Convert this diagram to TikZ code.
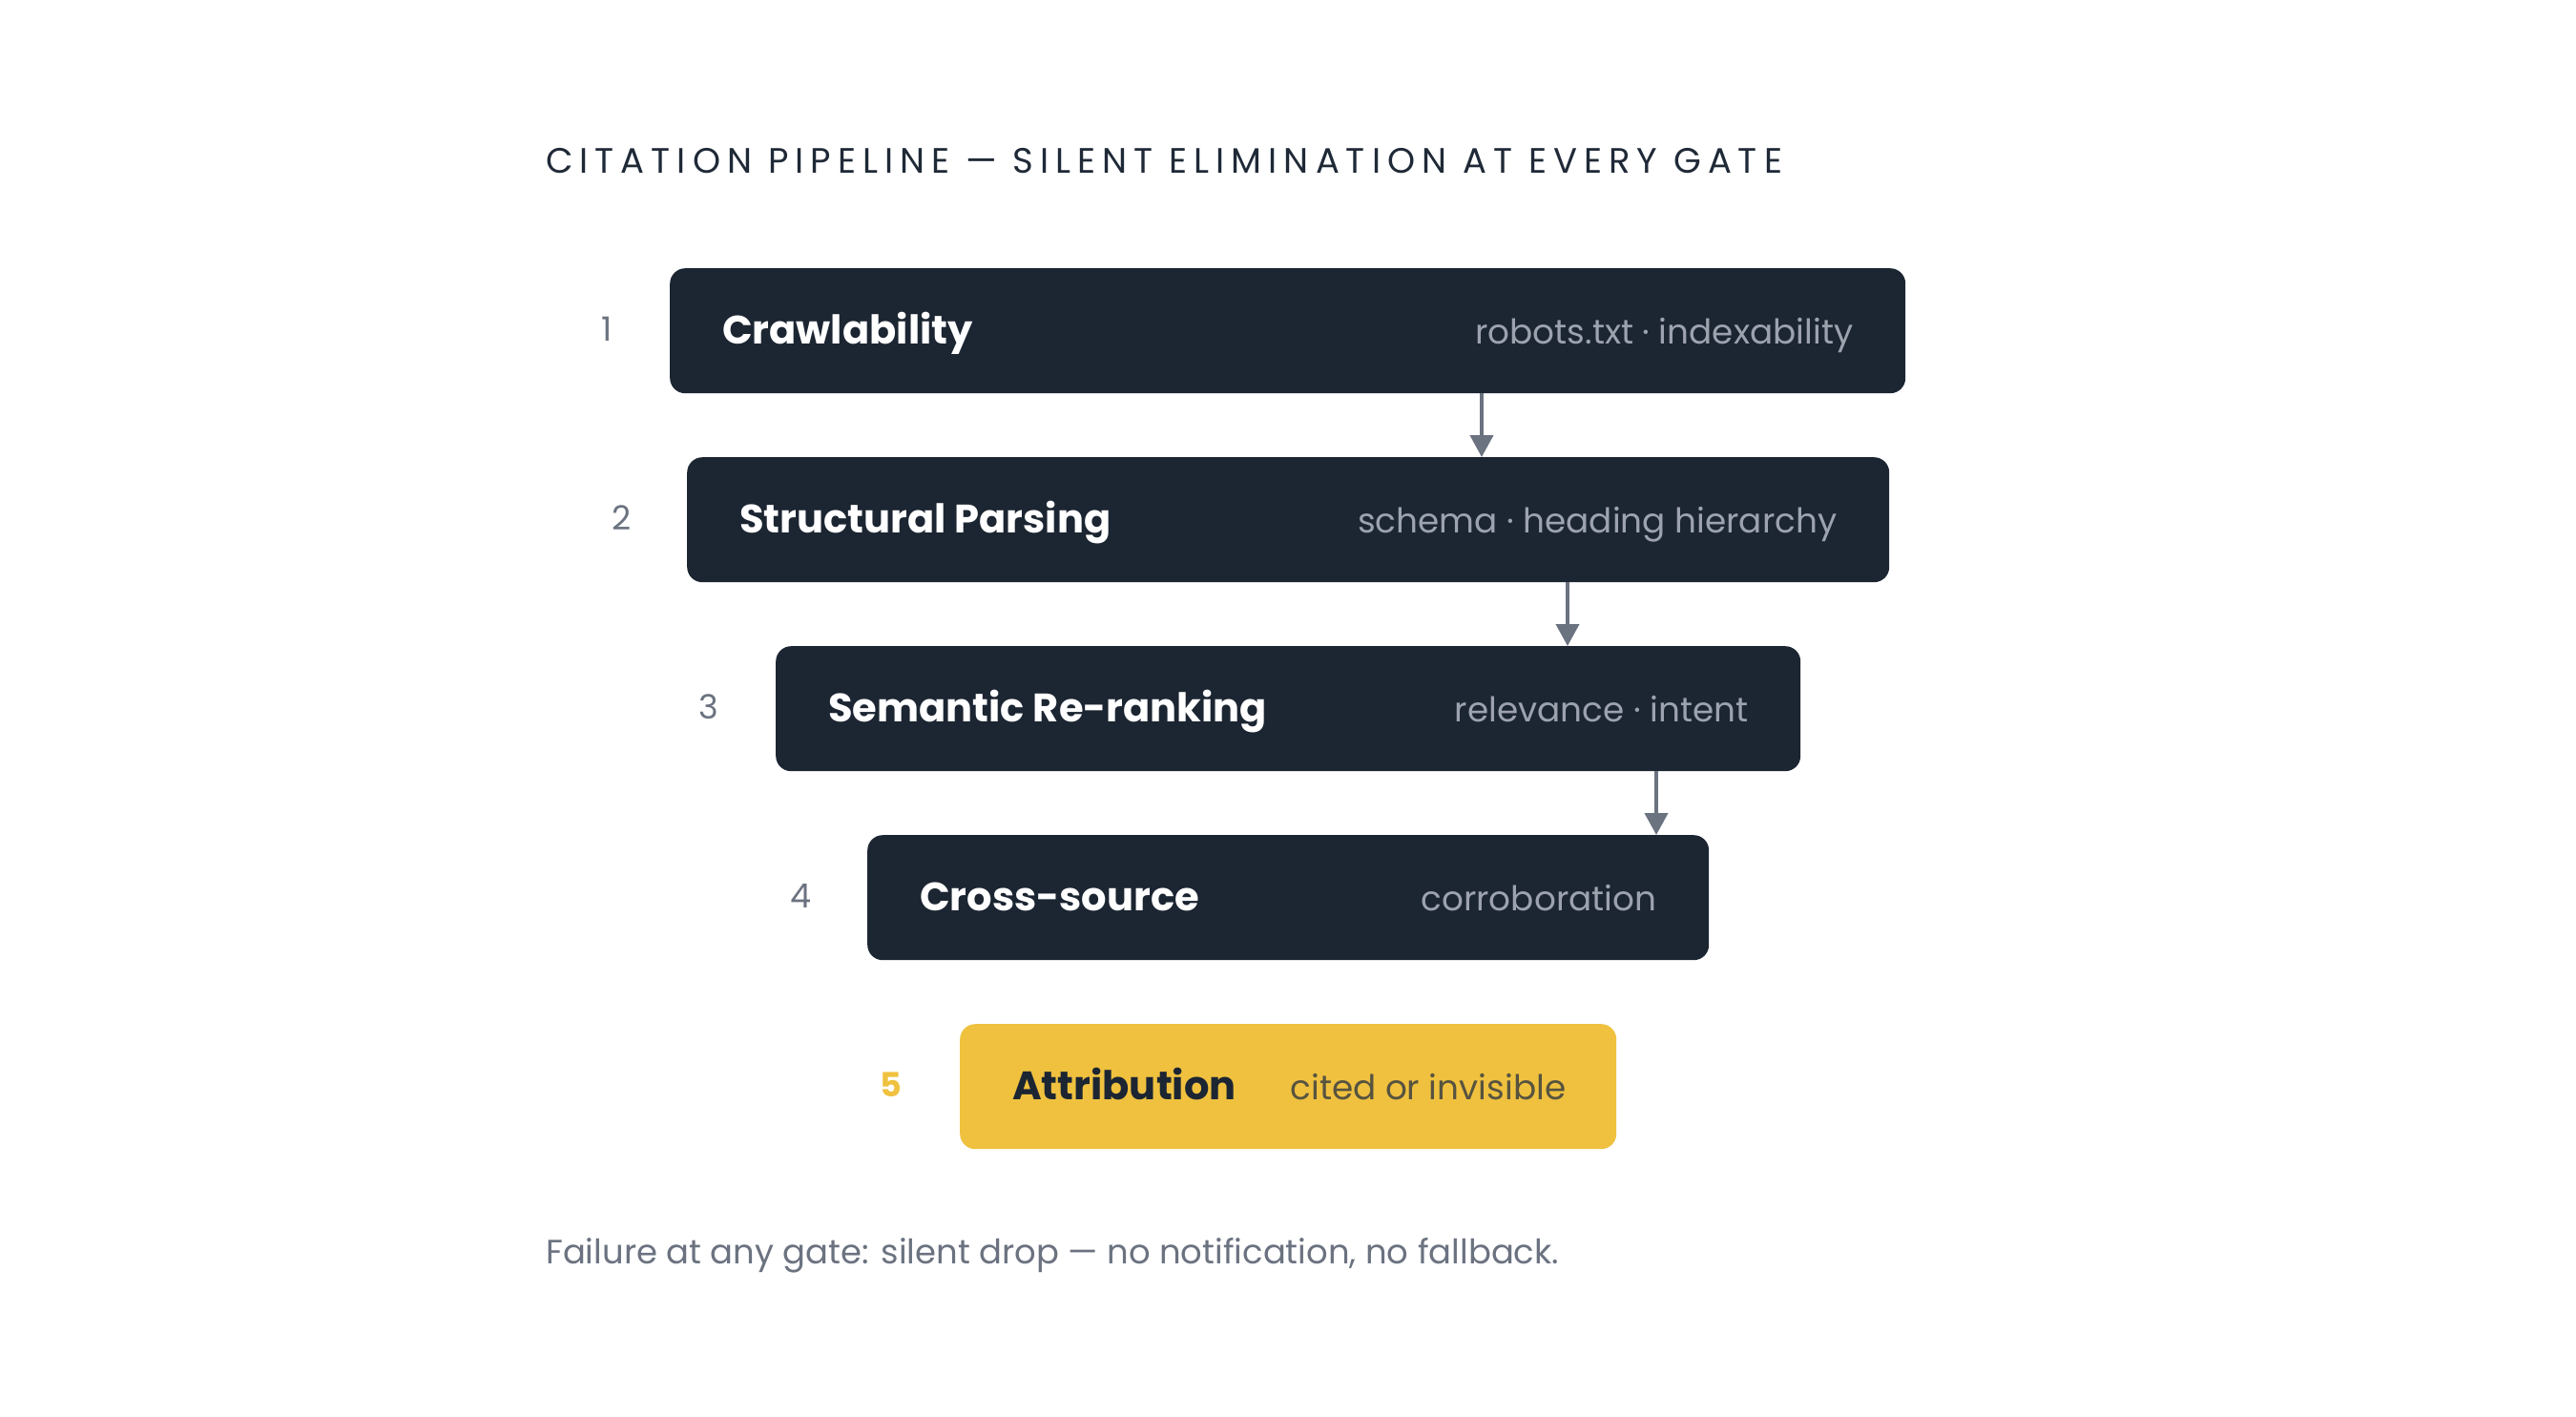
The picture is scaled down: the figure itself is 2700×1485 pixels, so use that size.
\documentclass[tikz,border=0pt]{standalone}
\usepackage{fontspec}
\setmainfont{Poppins}
\usetikzlibrary{arrows.meta,calc}
\definecolor{boxdark}{HTML}{1C2532}
\definecolor{subgray}{HTML}{9CA3AF}
\definecolor{numgray}{HTML}{6B7280}
\definecolor{gold}{HTML}{EFC13F}
\definecolor{ttl}{HTML}{1F2937}
\definecolor{citedgray}{HTML}{57533F}
\begin{document}
\begin{tikzpicture}[x=1pt,y=-1pt,
  stagebox/.style={draw=none,fill=boxdark,rounded corners=16pt,minimum height=131pt,inner sep=0pt,anchor=north west},
  goldbox/.style={stagebox,fill=gold},
  lbl/.style={text=white,font=\fontsize{41.6}{48}\selectfont\bfseries,anchor=base west,inner sep=0pt},
  sub/.style={text=subgray,font=\fontsize{35.8}{43}\selectfont,anchor=base east,inner sep=0pt},
  num/.style={text=numgray,font=\fontsize{35}{42}\selectfont,anchor=base,inner sep=0pt},
  arr/.style={draw=numgray,line width=4pt,-{Triangle[width=24pt,length=23pt]},shorten >=0pt}
]
\useasboundingbox (0,0) rectangle (2700,1485);
\fill[white] (0,0) rectangle (2700,1485);

% title
\node[anchor=base west,inner sep=0pt,text=ttl,font=\fontsize{37}{44}\selectfont\addfontfeature{LetterSpace=19}] (title) at (572,181) {CITATION PIPELINE — SILENT ELIMINATION AT EVERY GATE};

% boxes
\node[stagebox,minimum width=1295pt] (b1) at (702,281) {};
\node[stagebox,minimum width=1260pt] (b2) at (720,479) {};
\node[stagebox,minimum width=1074pt] (b3) at (813,677) {};
\node[stagebox,minimum width=882pt] (b4) at (909,875) {};
\node[goldbox,minimum width=688pt] (b5) at (1006,1073) {};

% labels
\node[lbl] (l1) at ($(b1.west)+(55,13.5)$) {Crawlability};
\node[sub] (s1) at ($(b1.east)+(-55,13.5)$) {robots.txt · indexability};
\node[num] (n1) at ($(b1.west)+(-66,11)$) {1};

\node[lbl] (l2) at ($(b2.west)+(55,13.5)$) {Structural Parsing};
\node[sub] (s2) at ($(b2.east)+(-55,13.5)$) {schema · heading hierarchy};
\node[num] (n2) at ($(b2.west)+(-68,11)$) {2};

\node[lbl] (l3) at ($(b3.west)+(55,13.5)$) {Semantic Re-ranking};
\node[sub] (s3) at ($(b3.east)+(-55,13.5)$) {relevance · intent};
\node[num] (n3) at ($(b3.west)+(-70,11)$) {3};

\node[lbl] (l4) at ($(b4.west)+(55,13.5)$) {Cross-source};
\node[sub] (s4) at ($(b4.east)+(-55,13.5)$) {corroboration};
\node[num] (n4) at ($(b4.west)+(-70,11)$) {4};

\node[lbl,text=boxdark] (l5) at ($(b5.west)+(55,13.5)$) {Attribution};
\node[sub,text=citedgray] (s5) at ($(b5.east)+(-53,13.5)$) {cited or invisible};
\node[num,text=gold,font=\fontsize{35}{42}\selectfont\bfseries] (n5) at ($(b5.west)+(-72,11)$) {5};

% arrows
\coordinate (a1) at (1553,0);
\coordinate (a2) at (1643,0);
\coordinate (a3) at (1736,0);
\draw[arr] (b1.south -| a1) -- (b2.north -| a1);
\draw[arr] (b2.south -| a2) -- (b3.north -| a2);
\draw[arr] (b3.south -| a3) -- (b4.north -| a3);

% footnote
\node[anchor=base west,inner sep=0pt,text=numgray,font=\fontsize{35.4}{42}\selectfont] (foot) at (572,1324) {Failure at any gate: silent drop — no notification, no fallback.};
\end{tikzpicture}
\end{document}
